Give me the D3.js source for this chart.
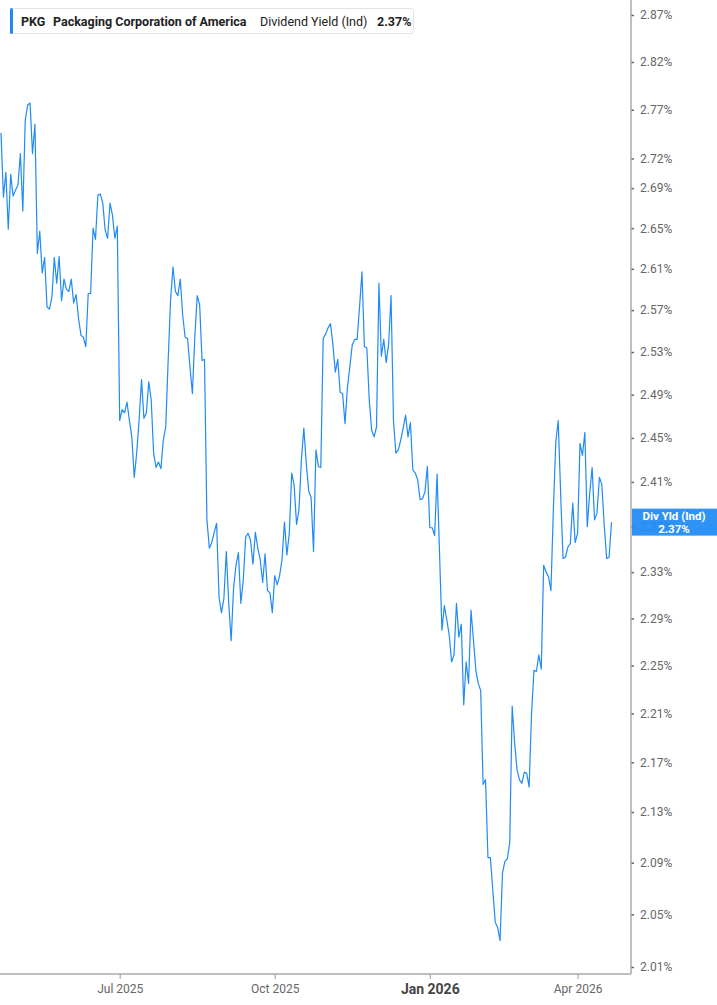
<!DOCTYPE html>
<html>
<head>
<meta charset="utf-8">
<script src="https://cdn.jsdelivr.net/npm/d3@7"></script>
<style>
  html, body { margin: 0; padding: 0; background: #fff; }
  svg { display: block; font-family: Roboto, "Noto Sans", sans-serif; }
</style>
</head>
<body>
<div id="chart"></div>
<script>
// daily dividend yield (%), one value per trading day from 2025-04-21
const yieldValues = [
  2.746, 2.681, 2.706, 2.649, 2.704, 2.682, 2.688, 2.693, 2.725, 2.667,
  2.759, 2.775, 2.777, 2.725, 2.755, 2.625, 2.647, 2.606, 2.621, 2.573,
  2.571, 2.582, 2.621, 2.596, 2.622, 2.579, 2.600, 2.590, 2.588, 2.600,
  2.577, 2.585, 2.562,
  2.546, 2.544, 2.535, 2.586, 2.586, 2.650, 2.639, 2.683, 2.684, 2.675,
  2.648, 2.640, 2.675, 2.663, 2.640, 2.652, 2.466, 2.476, 2.473, 2.483,
  2.466, 2.451, 2.414, 2.436, 2.466, 2.504, 2.468, 2.473, 2.502, 2.485,
  2.436, 2.423, 2.428,
  2.422, 2.448, 2.460, 2.522, 2.580, 2.612, 2.588, 2.584, 2.600, 2.565,
  2.544, 2.543, 2.516, 2.491, 2.544, 2.584, 2.575, 2.522, 2.523, 2.376,
  2.351, 2.356, 2.365, 2.373, 2.308, 2.295, 2.307, 2.348, 2.303, 2.271,
  2.316, 2.336,
  2.347, 2.303, 2.323, 2.361, 2.364, 2.358, 2.337, 2.365, 2.351, 2.341,
  2.321, 2.346, 2.314, 2.312, 2.295, 2.327, 2.319, 2.327, 2.341, 2.374,
  2.345, 2.364, 2.418, 2.407, 2.372, 2.385, 2.430, 2.459, 2.427, 2.402,
  2.396, 2.348,
  2.439, 2.424, 2.423, 2.543, 2.547, 2.553, 2.557, 2.537, 2.511, 2.523,
  2.492, 2.491, 2.463, 2.497, 2.516, 2.537, 2.542, 2.542, 2.573, 2.607,
  2.535, 2.534, 2.485, 2.457, 2.451, 2.460, 2.596, 2.526, 2.542, 2.520,
  2.537, 2.584, 2.466, 2.436, 2.439, 2.448, 2.459, 2.471, 2.451, 2.464,
  2.421, 2.418, 2.412, 2.394, 2.395, 2.401, 2.424, 2.369, 2.369, 2.362,
  2.417, 2.348, 2.280, 2.301, 2.289, 2.276, 2.253, 2.259, 2.303, 2.274,
  2.285, 2.217, 2.253, 2.235, 2.297, 2.272, 2.246, 2.235, 2.229, 2.152,
  2.156, 2.094, 2.094, 2.069, 2.044, 2.040, 2.030, 2.082, 2.091, 2.093,
  2.106, 2.216, 2.186, 2.164, 2.156, 2.153, 2.162, 2.161, 2.150, 2.210,
  2.246, 2.245, 2.259, 2.247, 2.336, 2.330, 2.326, 2.314, 2.385, 2.446,
  2.466, 2.400, 2.342, 2.343, 2.352, 2.355, 2.391, 2.356, 2.364, 2.445,
  2.434, 2.455, 2.370, 2.400, 2.423, 2.376, 2.382, 2.414, 2.408, 2.371,
  2.342, 2.343, 2.374
];
const startDate = "2025-04-21";
const holidays = ["2025-05-26", "2025-06-19", "2025-07-04", "2025-09-01", "2025-11-27",
                  "2025-12-25", "2026-01-01", "2026-01-19", "2026-02-16", "2026-04-03"];

const yTicks = [2.01, 2.05, 2.09, 2.13, 2.17, 2.21, 2.25, 2.29, 2.33, 2.37, 2.41,
                2.45, 2.49, 2.53, 2.57, 2.61, 2.65, 2.69, 2.72, 2.77, 2.82, 2.87];
const xTickDates = ["2025-07-01", "2025-10-01", "2026-01-01", "2026-04-01"];
const xTickLabels = ["Jul 2025", "Oct 2025", "Jan 2026", "Apr 2026"];

const ticker = "PKG";
const company = "Packaging Corporation of America";
const metric = "Dividend Yield (Ind)";
const tagName = "Div Yld (Ind)";

const width = 717, height = 1005;
const axisX = 631, axisY = 974;
const blue = "#1f8bf4";

// trading days (weekdays minus market holidays)
const parse = d3.timeParse("%Y-%m-%d");
const fmt = d3.timeFormat("%Y-%m-%d");
const dates = [];
let day = parse(startDate);
while (dates.length < yieldValues.length) {
  const wd = day.getDay();
  if (wd !== 0 && wd !== 6 && !holidays.includes(fmt(day))) dates.push(day);
  day = d3.timeDay.offset(day, 1);
}
const data = yieldValues.map((v, i) => ({ i, date: dates[i], value: v }));

const x = d3.scaleLinear().domain([0, data.length - 1]).range([1, 611.5]);
const y = d3.scaleLog().domain([2.01, 2.87]).range([967, 15]);

const svg = d3.select("#chart").append("svg")
  .attr("width", width)
  .attr("height", height);

svg.append("rect").attr("width", width).attr("height", height).attr("fill", "#fff");

// line
svg.append("path")
  .datum(data)
  .attr("fill", "none")
  .attr("stroke", blue)
  .attr("stroke-width", 1.2)
  .attr("stroke-linejoin", "round")
  .attr("d", d3.line().x(d => x(d.i)).y(d => y(d.value)));

// right axis
const yAxis = svg.append("g")
  .attr("transform", `translate(${axisX},0)`)
  .call(d3.axisRight(y).tickValues(yTicks).tickFormat(d => d.toFixed(2) + "%")
    .tickSize(3).tickPadding(6).tickSizeOuter(0));
yAxis.select(".domain").remove();
yAxis.selectAll(".tick line").attr("stroke", "#666").attr("stroke-width", 1.5);
yAxis.selectAll(".tick text").attr("fill", "#666").style("font-size", "12px")
  .style("font-family", "Roboto, sans-serif");

// bottom axis
const tickIdx = xTickDates.map(s => dates.findIndex(dt => dt >= parse(s)));
const xAxis = svg.append("g")
  .attr("transform", `translate(0,${axisY})`)
  .call(d3.axisBottom(x).tickValues(tickIdx).tickFormat((d, k) => xTickLabels[k])
    .tickSize(5).tickPadding(5).tickSizeOuter(0));
xAxis.select(".domain").remove();
xAxis.selectAll(".tick line").attr("stroke", "#aaa").attr("stroke-width", 1.2);
xAxis.selectAll(".tick text")
  .attr("fill", (d, k) => xTickLabels[k].startsWith("Jan") ? "#444" : "#666")
  .style("font-size", (d, k) => xTickLabels[k].startsWith("Jan") ? "14px" : "12px")
  .style("font-weight", (d, k) => xTickLabels[k].startsWith("Jan") ? "bold" : "normal")
  .style("font-family", "Roboto, sans-serif");

// axis frame lines
svg.append("line").attr("x1", axisX).attr("x2", axisX).attr("y1", 0).attr("y2", axisY)
  .attr("stroke", "#aaa").attr("stroke-width", 1.5);
svg.append("line").attr("x1", 0).attr("x2", axisX).attr("y1", axisY).attr("y2", axisY)
  .attr("stroke", "#aaa").attr("stroke-width", 1.5);

// last value tag
const last = data[data.length - 1];
const ly = y(last.value);
const tag = svg.append("g");
tag.append("rect")
  .attr("x", axisX + 1).attr("y", ly - 13.5)
  .attr("width", width - axisX - 1).attr("height", 27)
  .attr("fill", blue).attr("fill-opacity", 0.93);
tag.append("text")
  .attr("x", (axisX + width) / 2).attr("y", ly - 2)
  .attr("text-anchor", "middle").attr("fill", "#fff")
  .style("font-size", "11.5px").style("font-weight", "bold")
  .text(tagName);
tag.append("text")
  .attr("x", (axisX + width) / 2).attr("y", ly + 10.5)
  .attr("text-anchor", "middle").attr("fill", "#fff")
  .style("font-size", "11.5px").style("font-weight", "bold")
  .text(last.value.toFixed(2) + "%");

// legend
const legend = svg.append("g");
legend.append("rect")
  .attr("x", 10.5).attr("y", 8.5).attr("width", 403).attr("height", 25)
  .attr("rx", 3).attr("fill", "#fff").attr("stroke", "#e2e2e2");
legend.append("rect")
  .attr("x", 10).attr("y", 8).attr("width", 3).attr("height", 26)
  .attr("rx", 1.5).attr("fill", blue);
const legendParts = [
  { text: ticker, x: 21, bold: true },
  { text: company, x: 53, bold: true },
  { text: metric, x: 260, bold: false },
  { text: last.value.toFixed(2) + "%", x: 377, bold: true }
];
legend.selectAll("text.part")
  .data(legendParts)
  .enter().append("text")
  .attr("class", "part")
  .attr("x", d => d.x).attr("y", 25.5)
  .attr("fill", "#222")
  .style("font-size", "12.5px")
  .style("font-weight", d => d.bold ? "bold" : "normal")
  .text(d => d.text);
</script>
</body>
</html>
